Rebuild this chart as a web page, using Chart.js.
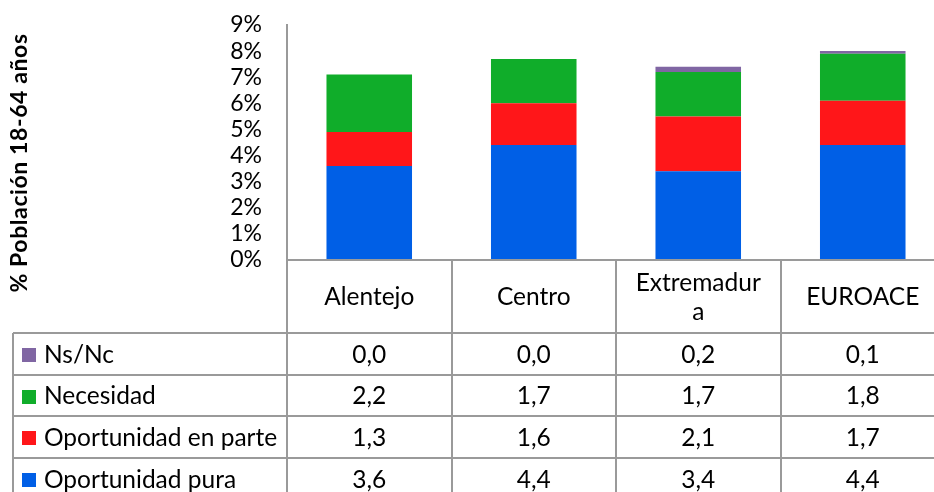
<!DOCTYPE html>
<html><head><meta charset="utf-8">
<script src="https://cdn.jsdelivr.net/npm/chart.js@4/dist/chart.umd.min.js"></script>
<style>
html,body{margin:0;padding:0;background:#fff;overflow:hidden;width:934px;height:492px}
#wrap{position:relative;width:950px;height:492px}
canvas{display:block}
</style></head>
<body><div id="wrap"><canvas id="c" width="950" height="492"></canvas></div>
<script>
// ---- data ----
const categories = ['Alentejo', 'Centro', ['Extremadur', 'a'], 'EUROACE'];
const seriesNames = ['Oportunidad pura', 'Oportunidad en parte', 'Necesidad', 'Ns/Nc'];
const oportunidadPura = [3.6, 4.4, 3.4, 4.4];
const oportunidadEnParte = [1.3, 1.6, 2.1, 1.7];
const necesidad = [2.2, 1.7, 1.7, 1.8];
const nsNc = [0.0, 0.0, 0.2, 0.1];
const yTickValues = [0, 1, 2, 3, 4, 5, 6, 7, 8, 9];
const axisTitle = '% Población 18-64 años';

// ---- style ----
const seriesColors = ['#005fe6', '#ff1619', '#10ad2a', '#8066a3'];
const FONT = 'Lato';
const FS = 24.5;
const TICKFS = 23;
const GRID = '#9a9a9a';

const tablePlugin = {
  id: 'dataTable',
  afterDraw(chart) {
    const ctx = chart.ctx;
    const xs = chart.scales.x;
    const area = chart.chartArea;
    const top = area.bottom;
    const headerH = 73;
    const rowH = 41.7;
    const left = 13;
    const n = chart.data.labels.length;
    const colW = xs.getPixelForValue(1) - xs.getPixelForValue(0);
    const bounds = [];
    for (let i = 0; i <= n; i++) bounds.push(xs.getPixelForValue(0) - colW / 2 + i * colW);
    const ds = chart.data.datasets.slice().reverse();
    const rows = ds.length;
    const bottom = top + headerH + rows * rowH;
    ctx.save();
    ctx.strokeStyle = GRID;
    ctx.lineWidth = 2;
    ctx.beginPath();
    ctx.moveTo(bounds[0], top); ctx.lineTo(bounds[n], top);
    for (let r = 0; r <= rows; r++) {
      const y = Math.round(top + headerH + r * rowH);
      ctx.moveTo(left, y); ctx.lineTo(bounds[n], y);
    }
    ctx.moveTo(left, top + headerH); ctx.lineTo(left, bottom);
    for (let i = 0; i <= n; i++) {
      ctx.moveTo(Math.round(bounds[i]), top); ctx.lineTo(Math.round(bounds[i]), bottom);
    }
    ctx.stroke();

    ctx.fillStyle = '#000';
    ctx.font = FS + 'px ' + FONT;
    ctx.textBaseline = 'middle';
    ctx.textAlign = 'center';
    chart.data.labels.forEach((lab, i) => {
      const lines = Array.isArray(lab) ? lab : [lab];
      const cx = (bounds[i] + bounds[i + 1]) / 2;
      const cy = top + headerH / 2 + 1;
      const lh = 29;
      lines.forEach((t, k) => {
        ctx.fillText(t, cx, cy + (k - (lines.length - 1) / 2) * lh);
      });
    });
    ds.forEach((d, r) => {
      const cy = top + headerH + r * rowH + rowH / 2 + 1;
      ctx.fillStyle = d.backgroundColor;
      ctx.fillRect(22, Math.round(cy - 7), 14, 14);
      ctx.fillStyle = '#000';
      ctx.textAlign = 'left';
      ctx.fillText(d.label, 44, cy);
      ctx.textAlign = 'center';
      d.data.forEach((v, i) => {
        const cx = (bounds[i] + bounds[i + 1]) / 2;
        ctx.fillText(v.toFixed(1).replace('.', ','), cx, cy);
      });
    });
    // axis title
    ctx.font = 'bold 23px ' + FONT;
    if ('letterSpacing' in ctx) ctx.letterSpacing = '0.6px';
    ctx.translate(27, 163);
    ctx.rotate(-Math.PI / 2);
    ctx.textAlign = 'center';
    ctx.textBaseline = 'alphabetic';
    ctx.fillText(axisTitle, 0, 0);
    ctx.restore();
  }
};

function build() {
  Chart.defaults.font.family = FONT;
  Chart.defaults.color = '#000';
  const seriesData = [oportunidadPura, oportunidadEnParte, necesidad, nsNc];
  new Chart(document.getElementById('c'), {
    type: 'bar',
    data: {
      labels: categories,
      datasets: seriesNames.map((name, i) => ({
        label: name,
        data: seriesData[i],
        backgroundColor: seriesColors[i],
        borderWidth: 0,
        categoryPercentage: 1,
        barPercentage: 0.52
      }))
    },
    options: {
      responsive: false,
      animation: false,
      layout: { padding: { top: 25, right: 5, bottom: 0, left: 0 } },
      plugins: { legend: { display: false }, tooltip: { enabled: false } },
      scales: {
        x: {
          stacked: true,
          grid: { display: false, drawTicks: false },
          border: { display: true, color: GRID, width: 2 },
          ticks: { display: false },
          afterFit(s) { s.height = 232; s.paddingLeft = 0; s.paddingRight = 0; }
        },
        y: {
          stacked: true,
          min: 0, max: 9,
          afterBuildTicks(s) { s.ticks = yTickValues.map(v => ({ value: v })); },
          grid: { display: false, drawTicks: false },
          border: { display: true, color: GRID, width: 2 },
          ticks: { autoSkip: false, padding: 25, font: { size: TICKFS }, color: '#000', callback: v => v + '%' },
          afterFit(s) { s.width = 287; s.paddingTop = 0; s.paddingBottom = 0; }
        }
      }
    },
    plugins: [tablePlugin]
  });
}
Promise.all([
  document.fonts.load(FS + 'px Lato'),
  document.fonts.load('bold 23px Lato')
]).then(build, build);
</script>
</body></html>
